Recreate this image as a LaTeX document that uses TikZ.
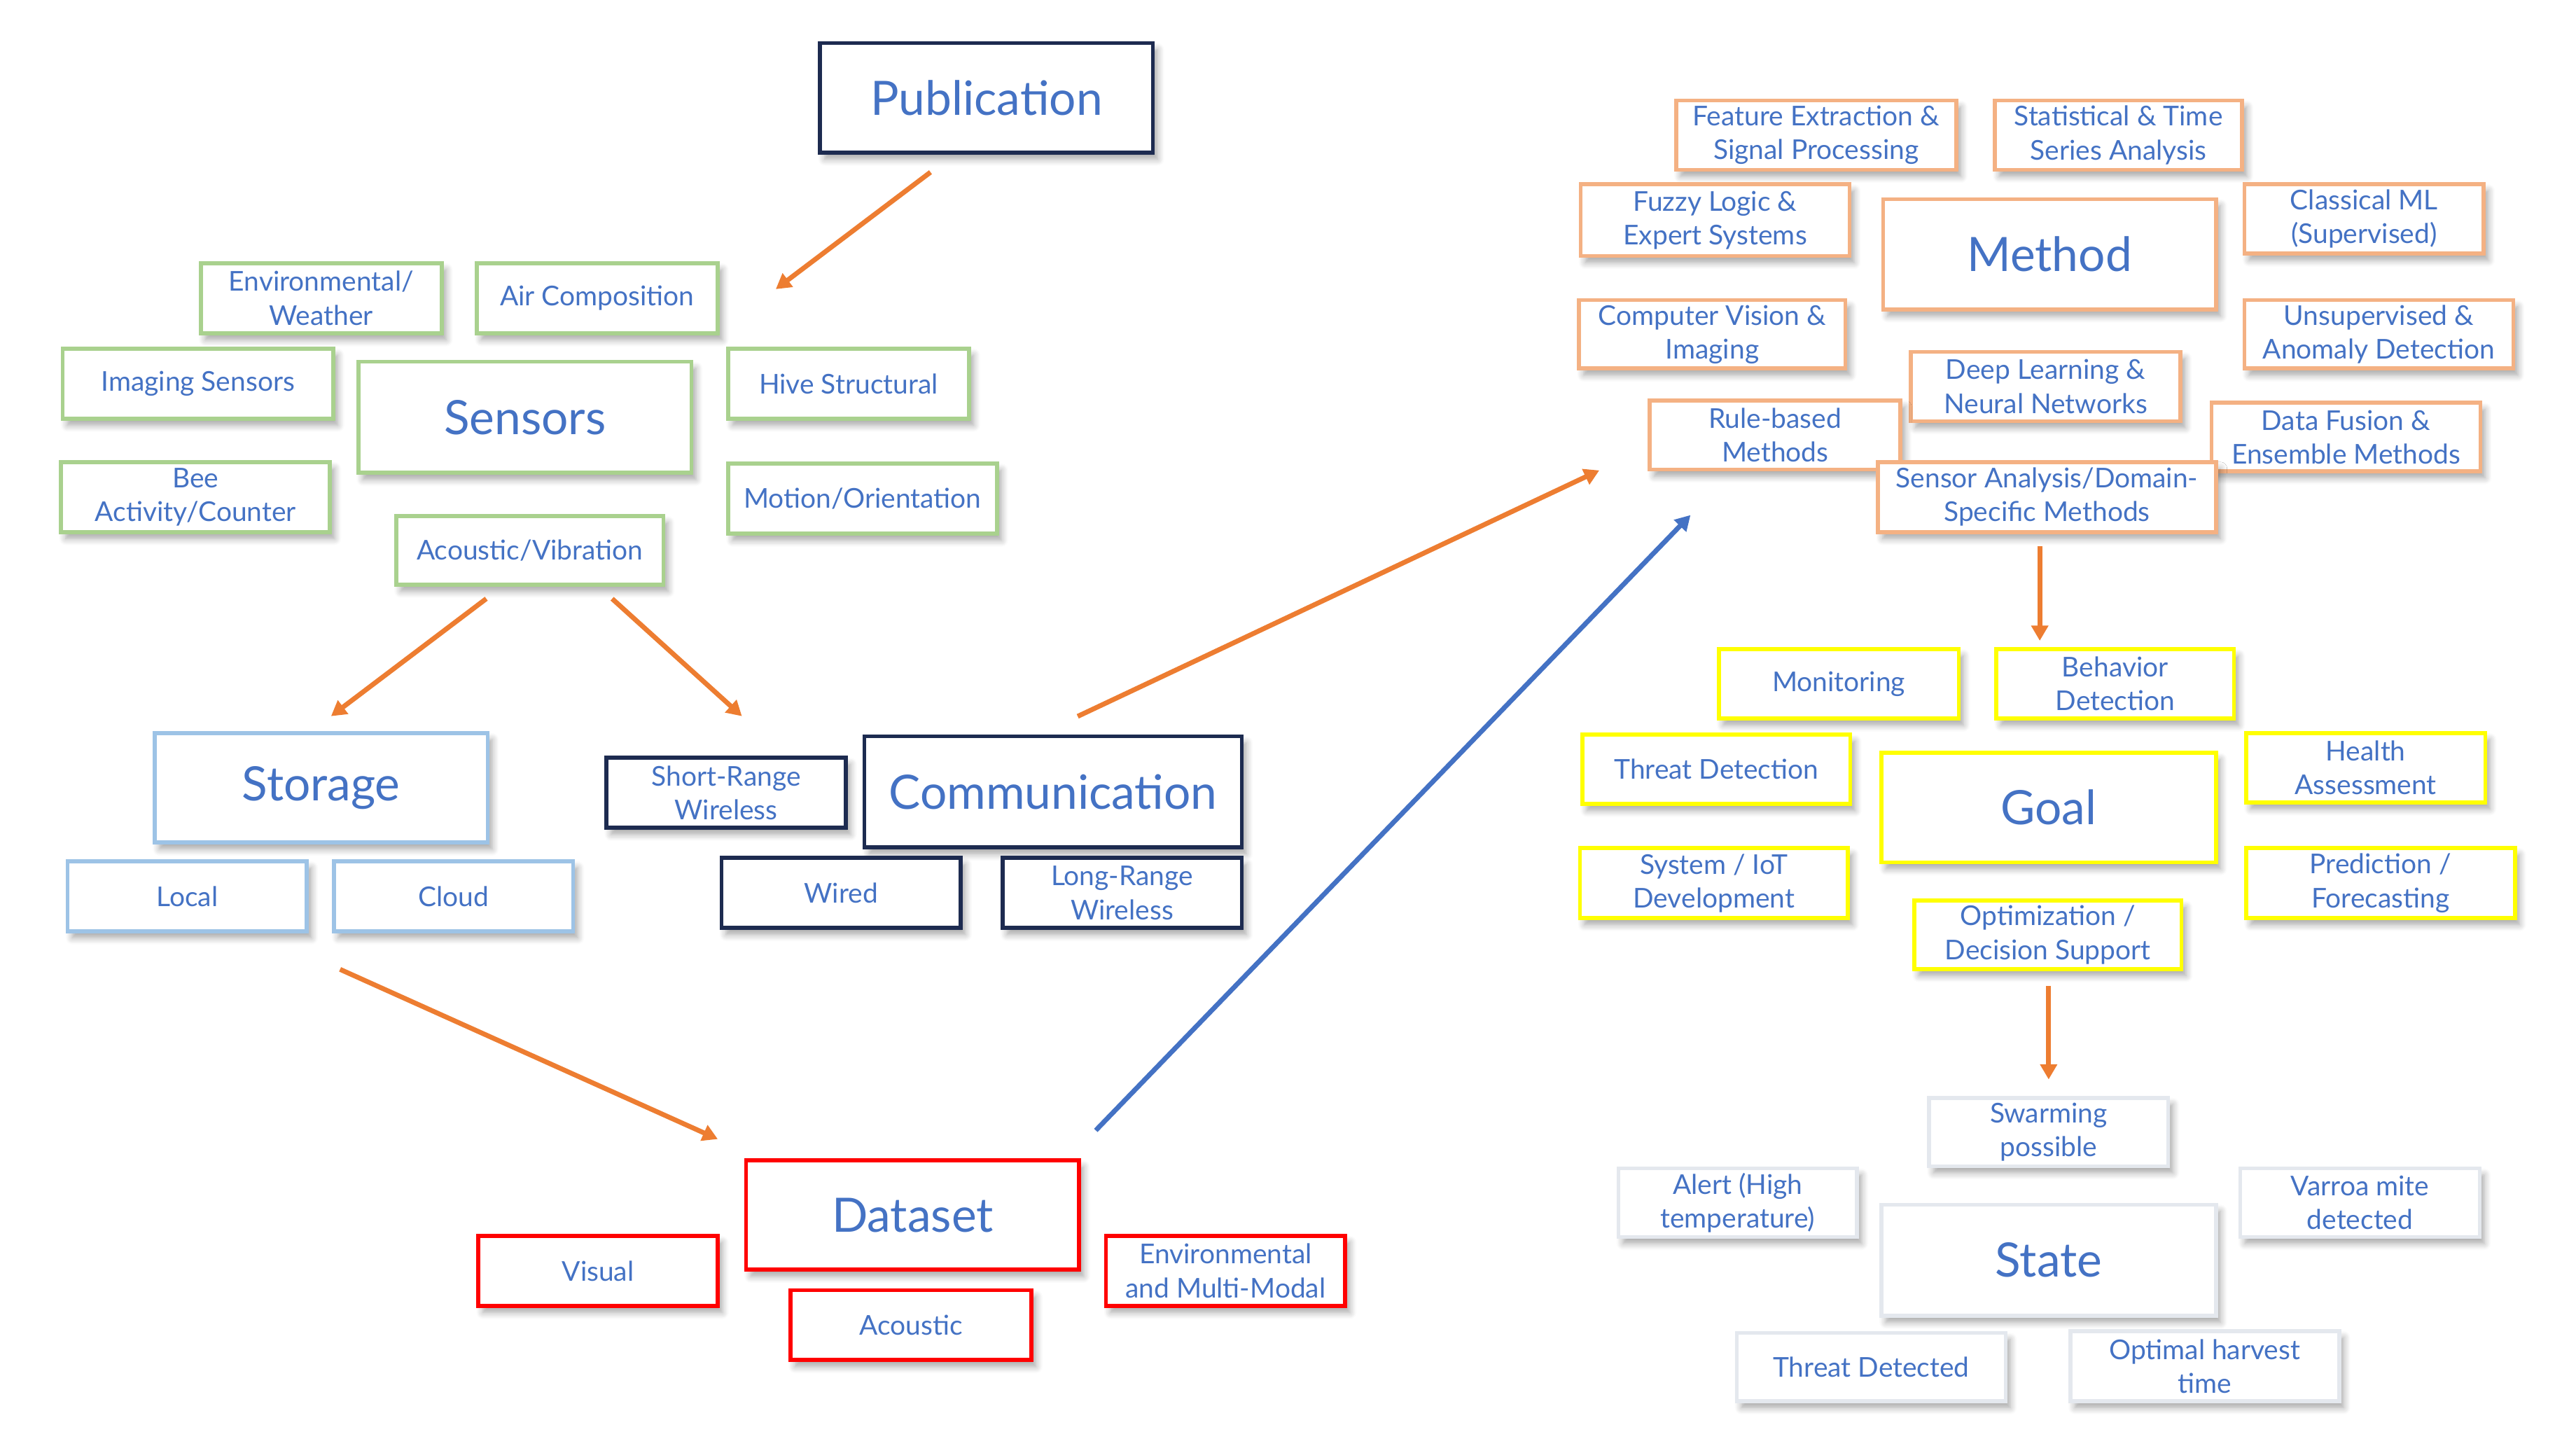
\documentclass[tikz,border=0pt]{standalone}
\usepackage{fontspec}
\setmainfont{Lato}
\usetikzlibrary{arrows.meta,shadows.blur}
\definecolor{txt}{HTML}{4472C4}
\definecolor{navy}{HTML}{1D2B50}
\definecolor{grn}{HTML}{A9D18E}
\definecolor{lblue}{HTML}{9DC3E6}
\definecolor{orb}{HTML}{F4B183}
\definecolor{yel}{HTML}{FFFF00}
\definecolor{rd}{HTML}{FF0000}
\definecolor{stg}{HTML}{E4E8EE}
\definecolor{arr}{HTML}{ED7D31}
\definecolor{barr}{HTML}{4472C4}
\newcommand\bx[7]{\node[#2, minimum width={(#5-#3)*0.025cm-1.7pt}, minimum height={(#6-#4)*0.025cm-1.7pt}] (#1) at ({(#3+#5)/2},{(#4+#6)/2}) {#7};}
\tikzset{
  box/.style={draw, line width=1.7pt, fill=white, text=txt, align=center, inner sep=0pt,
    font=\fontsize{11.8pt}{14.6pt}\selectfont,
    blur shadow={shadow xshift=0.07cm, shadow yshift=-0.1cm, shadow blur radius=0.1cm, shadow blur steps=6, shadow opacity=35}},
  big/.style={font=\fontsize{20.5pt}{24pt}\selectfont},
  gbox/.style={box, draw=grn},
  bbox/.style={box, draw=lblue},
  nbox/.style={box, draw=navy},
  rbox/.style={box, draw=rd},
  obox/.style={box, draw=orb},
  ybox/.style={box, draw=yel},
  sbox/.style={box, draw=stg},
  conn/.style={line width=2.1pt, -{Triangle[width=0.25cm,length=0.23cm]}},
}
\begin{document}
\begin{tikzpicture}[x=0.025cm, y=-0.025cm]
\useasboundingbox (0,0) rectangle (1568,880);
% Publication
\bx{pub}{nbox,big}{498}{25}{703}{94}{Publication}
% Sensors
\bx{envw}{gbox}{121}{159}{270}{204}{Environmental/\\Weather}
\bx{air}{gbox}{289}{159}{438}{204}{Air Composition}
\bx{img}{gbox}{37}{211}{204}{256}{Imaging Sensors}
\bx{sens}{gbox,big}{217}{219}{422}{289}{Sensors}
\bx{hive}{gbox}{442}{211}{591}{256}{Hive Structural}
\bx{bee}{gbox}{36}{280}{202}{325}{Bee\\Activity/Counter}
\bx{motion}{gbox}{442}{281}{608}{326}{Motion/Orientation}
\bx{acvib}{gbox}{240}{313}{405}{357}{Acoustic/Vibration}
% Storage
\bx{stor}{bbox,big}{93}{445}{298}{514}{Storage}
\bx{local}{bbox}{40}{523}{188}{568}{Local}
\bx{cloud}{bbox}{202}{523}{350}{568}{Cloud}
% Communication
\bx{comm}{nbox,big}{525}{447}{757}{517}{Communication}
\bx{srw}{nbox}{368}{460}{516}{505}{Short-Range\\Wireless}
\bx{wired}{nbox}{438}{521}{586}{566}{Wired}
\bx{lrw}{nbox}{609}{521}{757}{566}{Long-Range\\Wireless}
% Dataset
\bx{data}{rbox,big}{453}{705}{658}{774}{Dataset}
\bx{visual}{rbox}{290}{751}{438}{796}{Visual}
\bx{acous}{rbox}{480}{784}{629}{829}{Acoustic}
\bx{envmm}{rbox}{672}{751}{820}{796}{Environmental\\and Multi-Modal}
% Method
\bx{fe}{obox}{1019}{60}{1192}{104.5}{Feature Extraction \&\\Signal Processing}
\bx{st}{obox}{1213}{60}{1366}{104.5}{Statistical \& Time\\Series Analysis}
\bx{fl}{obox}{961}{111}{1127}{157}{Fuzzy Logic \&\\Expert Systems}
\bx{meth}{obox,big}{1145}{120}{1350}{189.5}{Method}
\bx{cml}{obox}{1365}{111}{1513}{155.5}{Classical ML\\(Supervised)}
\bx{cv}{obox}{960}{181.5}{1124.5}{225.5}{Computer Vision \&\\Imaging}
\bx{unsup}{obox}{1365}{181.5}{1531}{225.5}{Unsupervised \&\\Anomaly Detection}
\bx{dl}{obox}{1162}{213}{1328.5}{257.5}{Deep Learning \&\\Neural Networks}
\bx{rb}{obox}{1003}{242.5}{1158}{287}{Rule-based\\Methods}
\bx{df}{obox}{1345}{244}{1511}{288}{Data Fusion \&\\Ensemble Methods}
\bx{sa}{obox}{1142}{280}{1350}{325}{Sensor Analysis/Domain-\\Specific Methods}
% Goal
\bx{mon}{ybox}{1045}{394}{1193.5}{438.5}{Monitoring}
\bx{bd}{ybox}{1214}{394}{1361}{438.5}{Behavior\\Detection}
\bx{td}{ybox}{962}{446}{1127.5}{490.5}{Threat Detection}
\bx{goal}{ybox,big}{1144}{457}{1350}{526}{Goal}
\bx{ha}{ybox}{1366}{445}{1514}{489.5}{Health\\Assessment}
\bx{sys}{ybox}{960.5}{515}{1126}{560}{System / IoT\\Development}
\bx{pf}{ybox}{1366}{515}{1532}{560}{Prediction /\\Forecasting}
\bx{opt}{ybox}{1164}{547}{1329}{591}{Optimization /\\Decision Support}
% State
\bx{swarm}{sbox}{1173}{667}{1321}{711}{Swarming\\possible}
\bx{alert}{sbox}{984}{710}{1131.5}{754}{Alert (High\\temperature)}
\bx{varroa}{sbox}{1362.5}{710}{1510.5}{754}{Varroa mite\\detected}
\bx{state}{sbox,big}{1144}{732}{1350}{802}{State}
\bx{tdd}{sbox}{1056}{810}{1222}{854}{Threat Detected}
\bx{harv}{sbox}{1259}{809}{1425}{854}{Optimal harvest\\time}
% connector ends
\coordinate (a1s) at (566.4,104.8); \coordinate (a1e) at (472.2,176);
\coordinate (a2s) at (296,364.4);   \coordinate (a2e) at (201.5,435.9);
\coordinate (a3s) at (372.6,364.4); \coordinate (a3e) at (451.6,435.9);
\coordinate (a4s) at (656,436);     \coordinate (a4e) at (973.5,286.3);
\coordinate (a5s) at (207,590);     \coordinate (a5e) at (436.9,693.3);
\coordinate (a6s) at (667,688);     \coordinate (a6e) at (1029,313.5);
\coordinate (a7s) at (1241.6,332.4); \coordinate (a7e) at (1241.6,390);
\coordinate (a8s) at (1247,600);    \coordinate (a8e) at (1247,657);
\draw[conn, arr] (a1s) -- (a1e);
\draw[conn, arr] (a2s) -- (a2e);
\draw[conn, arr] (a3s) -- (a3e);
\draw[conn, arr] (a4s) -- (a4e);
\draw[conn, arr] (a5s) -- (a5e);
\draw[conn, barr] (a6s) -- (a6e);
\draw[conn, arr] (a7s) -- (a7e);
\draw[conn, arr] (a8s) -- (a8e);
\end{tikzpicture}
\end{document}
